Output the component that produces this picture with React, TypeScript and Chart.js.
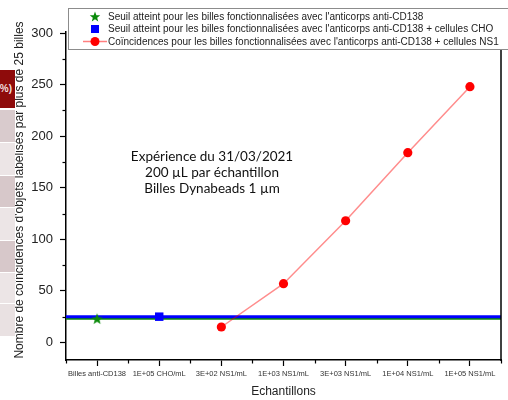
import React, { useEffect, useRef } from 'react';
import { Chart, registerables } from 'chart.js';

Chart.register(...registerables);

const categories = [
  'Billes anti-CD138',
  '1E+05 CHO/mL',
  '3E+02 NS1/mL',
  '1E+03 NS1/mL',
  '3E+03 NS1/mL',
  '1E+04 NS1/mL',
  '1E+05 NS1/mL',
];
const cd138Index = [0];
const cd138Values = [23];
const choIndex = [1];
const choValues = [25];
const ns1Index = [2, 3, 4, 5, 6];
const ns1Values = [15, 57, 118, 184, 248];
const cd138Threshold = 23;
const choThreshold = 25;
const yTicks = [0, 50, 100, 150, 200, 250, 300];
const yMinorTicks = [25, 75, 125, 175, 225, 275];
const seriesLabels = [
  "Seuil atteint pour les billes fonctionnalisées avec l'anticorps anti-CD138",
  "Seuil atteint pour les billes fonctionnalisées avec l'anticorps anti-CD138 + cellules CHO",
  "Coïncidences pour les billes fonctionnalisées avec l'anticorps anti-CD138 + cellules NS1",
];
const annotationLines = ['Expérience du 31/03/2021', '200 µL par échantillon', 'Billes Dynabeads 1 µm'];
const annotationAnchor = { x: 1.85, y: 180 };
const xTitle = 'Echantillons';
const yTitle = "Nombre de coïncidences d'objets labélisés par plus de 25 billes";

const GREEN = '#0a8a0a';
const BLUE = '#0000ff';
const RED = '#ff0000';
const SANS = '"Liberation Sans", Arial, sans-serif';

function starPath(ctx: CanvasRenderingContext2D, cx: number, cy: number, ro: number, ri: number) {
  ctx.beginPath();
  for (let i = 0; i < 10; i++) {
    const r = i % 2 === 0 ? ro : ri;
    const a = -Math.PI / 2 + (i * Math.PI) / 5;
    const px = cx + r * Math.cos(a);
    const py = cy + r * Math.sin(a);
    if (i === 0) ctx.moveTo(px, py);
    else ctx.lineTo(px, py);
  }
  ctx.closePath();
}

function makeStar(): HTMLCanvasElement {
  const c = document.createElement('canvas');
  c.width = 14;
  c.height = 14;
  const ctx = c.getContext('2d')!;
  ctx.fillStyle = GREEN;
  starPath(ctx, 7, 7.5, 6, 2.5);
  ctx.fill();
  return c;
}

function drawMarker(ctx: CanvasRenderingContext2D, kind: number, x: number, y: number) {
  ctx.save();
  if (kind === 0) {
    ctx.fillStyle = GREEN;
    starPath(ctx, x, y + 0.5, 5.5, 2.3);
    ctx.fill();
  } else if (kind === 1) {
    ctx.fillStyle = BLUE;
    ctx.fillRect(x - 4, y - 4, 8, 8);
  } else {
    ctx.strokeStyle = 'rgba(255,0,0,0.5)';
    ctx.lineWidth = 1.5;
    ctx.beginPath();
    ctx.moveTo(x - 12, y);
    ctx.lineTo(x + 12, y);
    ctx.stroke();
    ctx.fillStyle = RED;
    ctx.beginPath();
    ctx.arc(x, y, 4.5, 0, Math.PI * 2);
    ctx.fill();
  }
  ctx.restore();
}

const decorPlugin = {
  id: 'decor',
  afterDatasetsDraw(chart: any) {
    const { ctx, chartArea, scales } = chart;
    const xs = scales.x;
    const ys = scales.y;
    ctx.save();
    ctx.strokeStyle = '#000';
    ctx.lineWidth = 1.2;
    yMinorTicks.forEach((v) => {
      const py = Math.round(ys.getPixelForValue(v)) + 0.5;
      ctx.beginPath();
      ctx.moveTo(chartArea.left - 3.5, py);
      ctx.lineTo(chartArea.left, py);
      ctx.stroke();
    });
    for (let k = 0; k <= categories.length; k++) {
      const px = Math.round(xs.getPixelForValue(k - 0.5)) + 0.5;
      ctx.beginPath();
      ctx.moveTo(px, chartArea.bottom);
      ctx.lineTo(px, chartArea.bottom + 3.5);
      ctx.stroke();
    }
    ctx.lineWidth = 1.5;
    ctx.beginPath();
    ctx.moveTo(chartArea.right, chartArea.top);
    ctx.lineTo(chartArea.right, chartArea.bottom + 1);
    ctx.stroke();
    ctx.fillStyle = '#111';
    ctx.font = '13.5px Lato, "Open Sans", sans-serif';
    ctx.textAlign = 'center';
    ctx.textBaseline = 'middle';
    const ax = xs.getPixelForValue(annotationAnchor.x);
    const ay = ys.getPixelForValue(annotationAnchor.y);
    annotationLines.forEach((t, i) => ctx.fillText(t, ax, ay + i * 16));
    ctx.save();
    ctx.translate(20, 190);
    ctx.rotate(-Math.PI / 2);
    ctx.font = `12px ${SANS}`;
    ctx.fillStyle = '#222';
    ctx.fillText(yTitle, 0, 0);
    ctx.restore();
    ctx.restore();
  },
  afterDraw(chart: any) {
    const { ctx } = chart;
    ctx.save();
    ctx.fillStyle = '#fff';
    ctx.fillRect(68, 8, 445, 41);
    ctx.strokeStyle = '#8c8c8c';
    ctx.lineWidth = 1;
    ctx.strokeRect(68.5, 8.5, 445, 41);
    const rows = [16.5, 29, 41.5];
    ctx.font = `10px ${SANS}`;
    ctx.textAlign = 'left';
    ctx.textBaseline = 'middle';
    seriesLabels.forEach((t, i) => {
      drawMarker(ctx, i, 95, rows[i]);
      ctx.fillStyle = '#222';
      ctx.fillText(t, 108, rows[i] + 0.5);
    });
    ctx.restore();
  },
};

const cellStyle = (top: number, h: number, bg: string): React.CSSProperties => ({
  position: 'absolute',
  left: 0,
  top,
  width: 15,
  height: h,
  background: bg,
});

export default function App() {
  const ref = useRef<HTMLCanvasElement>(null);
  useEffect(() => {
    document.body.style.margin = '0';
    const star = makeStar();
    const toPts = (idx: number[], vals: number[]) => idx.map((x, i) => ({ x, y: vals[i] }));
    const hLine = (v: number) => [
      { x: -0.5, y: v },
      { x: categories.length - 0.5, y: v },
    ];
    const chart = new Chart(ref.current!, {
      type: 'scatter',
      data: {
        datasets: [
          {
            label: seriesLabels[0],
            data: toPts(cd138Index, cd138Values),
            pointStyle: star as any,
            pointRadius: 6,
            backgroundColor: GREEN,
            borderColor: GREEN,
            showLine: false,
            order: 0,
          },
          {
            label: seriesLabels[1],
            data: toPts(choIndex, choValues),
            pointStyle: 'rect',
            pointRadius: 6,
            backgroundColor: BLUE,
            borderColor: BLUE,
            borderWidth: 0,
            showLine: false,
            order: 0,
          },
          {
            label: seriesLabels[2],
            data: toPts(ns1Index, ns1Values),
            showLine: true,
            borderColor: 'rgba(255,0,0,0.45)',
            borderWidth: 1.5,
            pointRadius: 4.6,
            pointBackgroundColor: RED,
            pointBorderColor: RED,
            pointBorderWidth: 0,
            order: 0,
          },
          {
            label: 'seuil CD138',
            data: hLine(cd138Threshold),
            showLine: true,
            borderColor: GREEN,
            borderWidth: 2,
            pointRadius: 0,
            order: 6,
          },
          {
            label: 'seuil CHO',
            data: hLine(choThreshold),
            showLine: true,
            borderColor: BLUE,
            borderWidth: 3,
            pointRadius: 0,
            order: 5,
          },
        ],
      },
      options: {
        responsive: false,
        animation: false,
        layout: { padding: { top: 32, right: 6, left: 0, bottom: 0 } },
        plugins: { legend: { display: false }, tooltip: { enabled: false } },
        scales: {
          x: {
            type: 'linear',
            min: -0.5,
            max: categories.length - 0.5,
            afterBuildTicks: (s: any) => {
              s.ticks = categories.map((_, i) => ({ value: i }));
            },
            afterFit: (s: any) => {
              s.height = 40;
            },
            ticks: {
              callback: (v: any) => categories[v as number] ?? '',
              font: { size: 7.5, family: SANS },
              color: '#333',
              padding: 3,
              maxRotation: 0,
              autoSkip: false,
            },
            grid: { drawOnChartArea: false, drawTicks: true, tickLength: 6, tickColor: '#000', tickWidth: 1.2 },
            border: { display: true, color: '#000', width: 1.5 },
            title: {
              display: true,
              text: xTitle,
              font: { size: 12, family: SANS },
              color: '#222',
              padding: { top: 0, bottom: 1 },
            },
          },
          y: {
            type: 'linear',
            min: -17,
            max: 301,
            afterBuildTicks: (s: any) => {
              s.ticks = yTicks.map((v) => ({ value: v }));
            },
            afterFit: (s: any) => {
              s.width = 66;
            },
            ticks: {
              font: { size: 13, family: SANS },
              color: '#222',
              padding: 7,
            },
            grid: { drawOnChartArea: false, drawTicks: true, tickLength: 6, tickColor: '#000', tickWidth: 1.2 },
            border: { display: true, color: '#000', width: 1.5 },
          },
        },
      },
      plugins: [decorPlugin],
    });
    return () => chart.destroy();
  }, []);

  return (
    <div style={{ position: 'relative', width: 508, height: 400, background: '#fff' }}>
      <canvas ref={ref} width={508} height={400} style={{ position: 'absolute', left: 0, top: 0 }} />
      <div
        style={{
          position: 'absolute',
          left: 0,
          top: 70,
          width: 15,
          height: 38,
          background: '#8e0b0b',
          overflow: 'hidden',
        }}
      >
        <span
          style={{
            position: 'absolute',
            right: 3,
            top: 0,
            lineHeight: '38px',
            color: '#f2dede',
            fontFamily: SANS,
            fontSize: 10,
            fontWeight: 'bold',
            whiteSpace: 'nowrap',
          }}
        >
          (%)
        </span>
      </div>
      <div style={cellStyle(110, 32, '#d9cbcd')} />
      <div style={cellStyle(143, 32, '#ece5e6')} />
      <div style={cellStyle(176, 31, '#d7c8ca')} />
      <div style={cellStyle(208, 32, '#ece5e6')} />
      <div style={cellStyle(241, 31, '#d7c8ca')} />
      <div style={cellStyle(273, 30, '#ece5e6')} />
      <div style={cellStyle(304, 32, '#e9e1e2')} />
    </div>
  );
}
